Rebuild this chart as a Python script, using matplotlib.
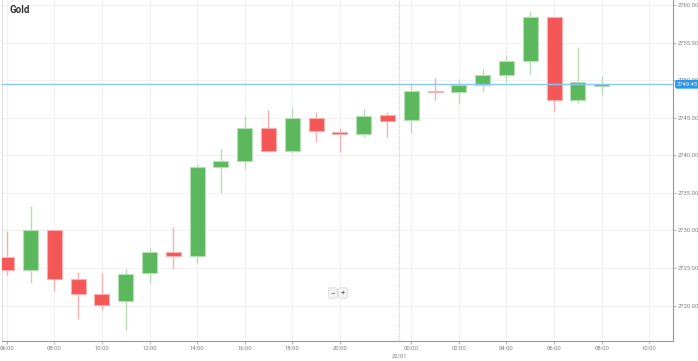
import matplotlib.pyplot as plt
from matplotlib.transforms import blended_transform_factory

plt.rcParams["font.family"] = ["Roboto", "DejaVu Sans"]

# hourly candles, 21/01 06:00 -> 22/01 08:00 (23:00 market break)
hours = ["06:00", "07:00", "08:00", "09:00", "10:00", "11:00", "12:00", "13:00",
         "14:00", "15:00", "16:00", "17:00", "18:00", "19:00", "20:00", "21:00",
         "22:00", "00:00", "01:00", "02:00", "03:00", "04:00", "05:00", "06:00",
         "07:00", "08:00"]
opens = [2726.5, 2724.7, 2730.0, 2723.6, 2721.6, 2720.6, 2724.3, 2727.1, 2726.6,
         2738.5, 2739.3, 2743.6, 2740.6, 2744.9, 2743.0, 2742.9, 2745.3, 2744.7,
         2748.55, 2748.4, 2749.4, 2750.7, 2752.5, 2758.4, 2747.3, 2749.2]
closes = [2724.8, 2730.1, 2723.6, 2721.5, 2720.1, 2724.2, 2727.1, 2726.6, 2738.5,
          2739.2, 2743.6, 2740.6, 2744.9, 2743.2, 2742.9, 2745.2, 2744.6, 2748.6,
          2748.4, 2749.4, 2750.7, 2752.5, 2758.4, 2747.3, 2749.8, 2749.45]
highs = [2729.9, 2733.2, 2730.0, 2724.5, 2724.3, 2724.9, 2727.7, 2730.4, 2738.9,
         2740.8, 2745.2, 2746.0, 2746.3, 2745.8, 2743.6, 2746.2, 2745.8, 2749.5,
         2750.3, 2750.1, 2751.5, 2753.4, 2759.2, 2758.4, 2754.4, 2750.5]
lows = [2724.1, 2723.0, 2721.9, 2718.2, 2719.4, 2716.8, 2722.9, 2724.9, 2725.7,
        2735.0, 2738.2, 2740.4, 2740.3, 2741.8, 2740.4, 2742.4, 2742.4, 2743.0,
        2747.3, 2746.8, 2748.4, 2749.7, 2750.8, 2745.9, 2746.9, 2748.0]

tick_pos = [0, 2, 4, 6, 8, 10, 12, 14, 17, 19, 21, 23, 25, 27]
tick_labels = ["06:00", "08:00", "10:00", "12:00", "14:00", "16:00", "18:00",
               "20:00", "00:00", "02:00", "04:00", "06:00", "08:00", "10:00"]
y_ticks = [2720, 2725, 2730, 2735, 2740, 2745, 2750, 2755, 2760]
last_price = 2749.45
day_break = 16.5

green, green_light = "#5cb85c", "#b5deb5"
red, red_light = "#f55656", "#f9b0b0"

fig = plt.figure(figsize=(6.98, 3.61), dpi=100)
ax = fig.add_axes([2 / 698, 20 / 361, 671 / 698, 341 / 361])

for i in range(len(opens)):
    up = closes[i] >= opens[i]
    col = green if up else red
    light = green_light if up else red_light
    ax.vlines(i, lows[i], highs[i], color=light, linewidth=1, zorder=2)
    h = max(abs(closes[i] - opens[i]), 0.18)
    ax.bar(i, h, bottom=min(opens[i], closes[i]), width=0.63, color=col,
           edgecolor=light, linewidth=0.8, zorder=3)

ax.axhline(last_price, color="#86c8f2", linewidth=1, zorder=4)
ax.axvline(day_break, color="#cfcfcf", linewidth=0.8, linestyle=(0, (1, 1)), zorder=1)

ax.set_xlim(-0.2, 28.0)
ax.set_ylim(2715.3, 2760.66)
ax.set_xticks(tick_pos)
ax.set_xticklabels(tick_labels)
ax.set_yticks(y_ticks)
ax.set_yticklabels([f"{v:.2f}" for v in y_ticks])
ax.yaxis.tick_right()
ax.tick_params(axis="both", labelsize=4.2, labelcolor="#808080", color="#aaaaaa",
               length=2.5, width=0.6, pad=1.2)
ax.grid(True, color="#f1f1f1", linewidth=0.8, zorder=0)
ax.set_axisbelow(True)

ax.spines["top"].set_visible(False)
ax.spines["left"].set_color("#dddddd")
ax.spines["right"].set_color("#999999")
ax.spines["bottom"].set_color("#999999")

# price label on the right axis
trans = blended_transform_factory(ax.transAxes, ax.transData)
ax.text(1.006, last_price, f"{last_price:.2f}", transform=trans, fontsize=4.2,
        color="white", va="center", ha="left",
        bbox=dict(boxstyle="round,pad=0.2", fc="#2196f3", ec="#2196f3"))

# date under the day break
ax.annotate("22/01", xy=(day_break, 0), xycoords=("data", "axes fraction"),
            xytext=(0, -10.5), textcoords="offset points", fontsize=4.2,
            color="#808080", ha="center", va="center")

ax.text(0.011, 0.972, "Gold", transform=ax.transAxes, fontsize=7,
        fontweight="bold", color="#333333", va="center", ha="left")

# zoom buttons
for xp, s in [(333, "\u2212"), (343, "+")]:
    fig.text(xp / 698, 1 - 293 / 361, s, fontsize=5.5, color="#555555",
             ha="center", va="center",
             bbox=dict(boxstyle="round,pad=0.3", fc="#f3f3f3", ec="#dddddd", lw=0.6))

fig.savefig("out.png", dpi=100)
